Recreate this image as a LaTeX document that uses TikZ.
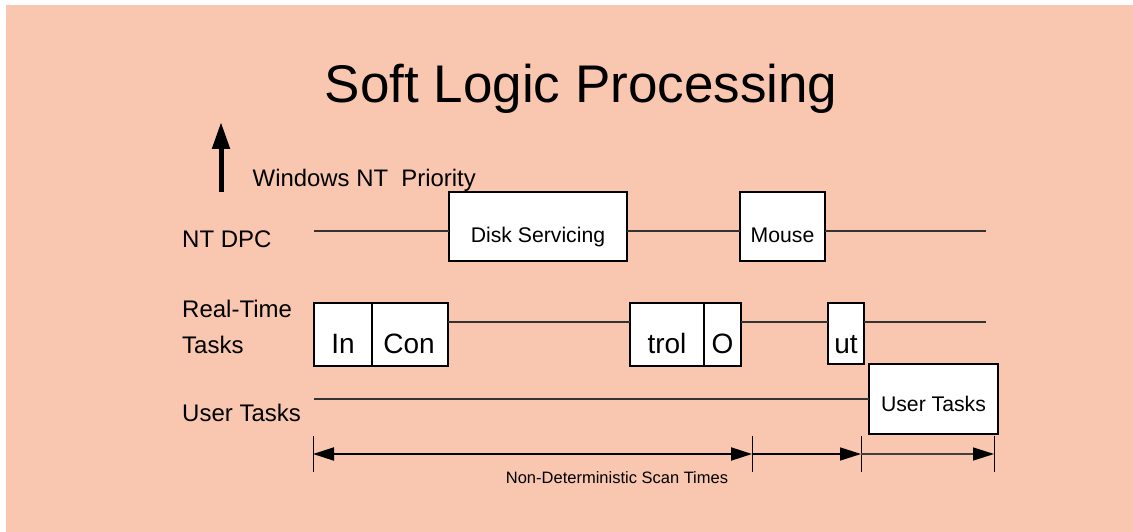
\documentclass[tikz,border=0pt]{standalone}
\usepackage{fontspec}
\setmainfont{Liberation Sans}
\usetikzlibrary{arrows.meta,shadows}
\definecolor{bgsalmon}{RGB}{249,198,176}
\tikzset{
  box/.style={draw=black, fill=white, line width=1.1pt, inner sep=0pt, outer sep=0pt,
    drop shadow={shadow xshift=1.2pt, shadow yshift=-1.2pt, fill=black, opacity=0.35}},
  wire/.style={draw=black!80, line width=1.2pt},
  lbl/.style={anchor=base west, inner sep=0pt, font=\fontsize{24}{28}\selectfont},
  boxtxt/.style={anchor=base, inner sep=0pt, font=\fontsize{21.2}{25}\selectfont},
  bigtxt/.style={anchor=base, inner sep=0pt, font=\fontsize{28}{32}\selectfont},
  tickmark/.style={draw=black, line width=1pt},
  tipA/.tip={Triangle[length=21pt,width=13pt]},
}
\begin{document}
\begin{tikzpicture}[x=1pt,y=-1pt]
\useasboundingbox (0,0) rectangle (1133,532);
\fill[bgsalmon] (6,5) rectangle (1133,532);

% title
\node[anchor=base, inner sep=0pt, font=\fontsize{53}{60}\selectfont] (title) at (581,103) {Soft Logic Processing};

% priority arrow
\coordinate (prio0) at (221,192);
\coordinate (prio1) at (221,122);
\draw[line width=5pt, -{Triangle[length=27pt,width=17pt]}] (prio0) -- (prio1);
\node[lbl, font=\fontsize{23.9}{28}\selectfont] (prio) at (252.5,186) {Windows NT\ \ Priority};

% row labels
\node[lbl] (dpclbl) at (182,247.5) {NT DPC};
\node[lbl] (rtlbl1) at (182,317.3) {Real-Time};
\node[lbl] (rtlbl2) at (182,353.3) {Tasks};
\node[lbl] (usrlbl) at (182,421.7) {User Tasks};

% NT DPC row
\node[box, minimum width=178pt, minimum height=69pt] (disk) at (538,226.5) {};
\node[box, minimum width=85pt, minimum height=69pt] (mouse) at (782.5,226.5) {};
\node[boxtxt] (disktxt) at (538,242) {Disk Servicing};
\node[boxtxt] (mousetxt) at (782.5,242) {Mouse};
\coordinate (dpc0) at (314,231);
\coordinate (dpc1) at (986,231);
\draw[wire] (dpc0) -- (dpc0 -| disk.west);
\draw[wire] (dpc0 -| disk.east) -- (dpc0 -| mouse.west);
\draw[wire] (dpc0 -| mouse.east) -- (dpc1);

% real-time row
\coordinate (rt0) at (314,322);
\coordinate (rt1) at (986,322);
\node[box, minimum width=58pt, minimum height=63pt] (in) at (343,334.5) {};
\node[box, minimum width=76pt, minimum height=63pt] (con) at (410,334.5) {};
\node[box, minimum width=74pt, minimum height=63pt] (trol) at (667,334.5) {};
\node[box, minimum width=37pt, minimum height=63pt] (o) at (722.5,334.5) {};
\node[box, minimum width=36pt, minimum height=61pt] (ut) at (846,333.5) {};
\draw[wire] (rt0 -| con.east) -- (rt0 -| trol.west);
\draw[wire] (rt0 -| o.east) -- (rt0 -| ut.west);
\draw[wire] (rt0 -| ut.east) -- (rt1);
\node[bigtxt] (intxt) at (343,353) {In};
\node[bigtxt] (contxt) at (409,353) {Con};
\node[bigtxt] (troltxt) at (667,353) {trol};
\node[bigtxt] (otxt) at (722.5,353) {O};
\node[bigtxt] (uttxt) at (846,353) {ut};

% user tasks row
\node[box, minimum width=129pt, minimum height=70pt] (user) at (933.5,399) {};
\node[boxtxt] (usertxt) at (933.5,411) {User Tasks};
\coordinate (us0) at (314,399);
\draw[wire] (us0) -- (user.west);

% scan time spans
\coordinate (k0) at (313,454);
\coordinate (k1) at (752,454);
\coordinate (k2) at (861,454);
\coordinate (k3) at (994,454);
\foreach \k in {k0,k1,k2,k3}
  \draw[tickmark] ([yshift=18pt]\k) -- ([yshift=-18pt]\k);
\draw[line width=2pt, tipA-tipA] (k0) -- (k1);
\draw[line width=1.5pt, -tipA] (k1) -- (k2);
\draw[line width=1.5pt, black!75, -{Triangle[length=21pt,width=13pt,fill=black,color=black]}] (k2) -- (k3);
\node[anchor=base, inner sep=0pt, font=\fontsize{16.5}{19}\selectfont] (scan) at (617,483) {Non-Deterministic Scan Times};
\end{tikzpicture}
\end{document}
